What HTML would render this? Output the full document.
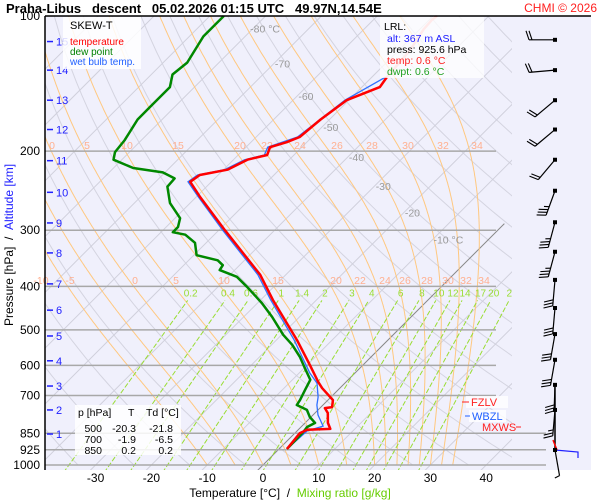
<!DOCTYPE html>
<html><head><meta charset="utf-8"><style>
html,body{margin:0;padding:0;background:#fff}
svg{display:block;font-family:"Liberation Sans",sans-serif}
</style></head><body>
<svg id="chart" width="600" height="500" viewBox="0 0 600 500" xmlns="http://www.w3.org/2000/svg">
<defs><clipPath id="pc"><rect x="45" y="16" width="467" height="454"/></clipPath></defs>
<rect x="45" y="16" width="546" height="454" fill="#f0f0fc"/>
<g id="bg" clip-path="url(#pc)"></g>
<g id="plines"></g>
<g id="barbs"></g>
<g id="labels"></g>
<g id="profiles"></g>
<line x1="45" y1="16" x2="591" y2="16" stroke="#000" stroke-width="1.5"/>
<line x1="45" y1="16" x2="45" y2="470" stroke="#000" stroke-width="1.5"/>
<text x="6" y="13" font-size="13" font-weight="bold">Praha-Libus&#160;&#160;&#160;descent&#160;&#160;&#160;05.02.2026 01:15 UTC&#160;&#160;&#160;49.97N,14.54E</text>
<text x="597" y="12" font-size="12" fill="#ff2020" text-anchor="end">CHMI © 2026</text>
<g>
<rect x="63" y="17" width="78" height="52" fill="#fff" opacity="0.85"/>
<text x="70" y="29" font-size="11">SKEW-T</text>
<text x="70" y="45" font-size="10" fill="#ff0000">temperature</text>
<text x="70" y="55" font-size="10" fill="#008000">dew point</text>
<text x="70" y="65" font-size="10" fill="#2060ff">wet bulb temp.</text>
</g>
<g>
<rect x="380" y="17" width="104" height="61" fill="#fff" opacity="0.75"/>
<text x="384" y="30" font-size="10.5">LRL:</text>
<text x="387" y="42" font-size="10.5" fill="#2020ff">alt: 367 m ASL</text>
<text x="387" y="53" font-size="10.5">press: 925.6 hPa</text>
<text x="387" y="64" font-size="10.5" fill="#ff2020">temp: 0.6 °C</text>
<text x="387" y="75" font-size="10.5" fill="#20a020">dwpt: 0.6 °C</text>
</g>
<g font-size="10.5">
<rect x="75" y="405" width="106" height="50" fill="#fff" opacity="0.85"/>
<text x="78" y="416">p [hPa]</text><text x="128" y="416">T</text><text x="146" y="416">Td [°C]</text>
<g text-anchor="end">
<text x="102" y="432">500</text><text x="136" y="432">-20.3</text><text x="173" y="432">-21.8</text>
<text x="102" y="443">700</text><text x="136" y="443">-1.9</text><text x="173" y="443">-6.5</text>
<text x="102" y="454">850</text><text x="136" y="454">0.2</text><text x="173" y="454">0.2</text>
</g></g>
<g font-size="11">
<rect x="466" y="396" width="42" height="12" fill="#fff" opacity="0.8"/>
<line x1="462" y1="402" x2="469" y2="402" stroke="#ff2020"/>
<text x="471" y="406" fill="#ff2020">FZLV</text>
<rect x="469" y="410" width="37" height="12" fill="#fff" opacity="0.8"/>
<line x1="465" y1="416" x2="470" y2="416" stroke="#2060ff"/>
<text x="472" y="420" fill="#2060ff">WBZL</text>
<text x="482" y="431" fill="#ff2020">MXWS</text>
<line x1="516" y1="427" x2="521" y2="427" stroke="#ff2020"/>
</g>
<text transform="translate(13,245) rotate(-90)" font-size="12" text-anchor="middle">Pressure [hPa]&#160;&#160;/&#160;&#160;<tspan fill="#2020ff">Altitude [km]</tspan></text>
<text x="290" y="497" font-size="12" text-anchor="middle">Temperature [°C]&#160;&#160;/&#160;&#160;<tspan fill="#66cc00">Mixing ratio [g/kg]</tspan></text>
<script>
// ---- data ----
const tempP = [921,849,835,831,806,766,747,743,717,674,653,599,527,429,377,300,253,234,226,220,209,204,196,191,186,170,154,144,137];
const tempT = [1.4,0.9,1.6,5.6,4.1,2.3,0.9,2.0,0.9,-3.2,-5.0,-9.5,-16.3,-27.8,-34.6,-48.9,-59.3,-63.8,-63.3,-59.3,-57.5,-54.8,-55.7,-53.6,-52.2,-51.6,-50.4,-46.8,-47.3];
const topP = [137,119,107,102,100];
const topT = [-47.3,-48.0,-49.3,-49.5,-49.3];
const dewP = [921,845,823,806,782,754,735,717,681,646,608,575,540,513,468,436,401,381,368,359,350,341,320,307,303,295,282,261,240,230,223,218,209,201,189,170,159,144,135,127,111,100];
const dewT = [1.4,1.3,1.1,1.8,-0.2,-2.0,-4.7,-5.0,-5.9,-6.8,-9.9,-12.7,-16.3,-19.7,-24.9,-29.2,-34.8,-38.4,-42.7,-43.0,-44.8,-49.5,-52.0,-55.2,-57.9,-57.9,-59.1,-63.6,-67.0,-67.2,-70.4,-76.5,-81.5,-82.6,-83.0,-84.4,-84.4,-84.4,-86.2,-85.7,-87.5,-87.5];
const wbP = [921,840,819,774,735,706,657,624,527,429,377,300,253,234,226,220,209,204,196,186,154,137];
const wbT = [1.4,1.8,3.8,0.9,-1.1,-2.3,-5.0,-8.1,-16.8,-28.2,-35.0,-49.3,-59.6,-64.2,-63.7,-59.8,-58.0,-55.3,-56.1,-52.6,-50.7,-47.6];
const pLevels = [100,200,300,400,500,600,700,850,925,1000];
const kmTicks = [1,2,3,4,5,6,7,8,9,10,11,12,13,14,15];
const kmP = [853,754,667,586,516,452,395,337,289,247,210,179,154,132,114];
const xTicks = [-30,-20,-10,0,10,20,30,40];
const isoLabels = [-80,-70,-60,-50,-40,-30,-20,-10];
const isoLabelP = [106.6,127.6,150.6,176.5,206,239,274,315];
const mixRatios = [0.2,0.4,0.6,1,1.4,2,3,4,6,8,10,12,14,17,20,25];
const moistThw = [-10,-5,0,5,10,15,20,22,24,26,28,30,32,34];
const barbP = [113,132,154,179,209,245,288,335,387,447,511,583,663,754,926];
const barbDir = [270,265,230,230,220,200,195,195,185,185,190,190,182,185,170];
const barbSpd = [20,20,20,20,20,35,35,35,30,30,30,30,30,25,5];

// ---- axes ----
const NS='http://www.w3.org/2000/svg';
function yP(p){return 465-449*Math.log10(1000/p);}
function xT(t,p){return 263+5.58*t+(465-yP(p));}
function mk(tag,attrs,parent){const e=document.createElementNS(NS,tag);for(const k in attrs)e.setAttribute(k,attrs[k]);parent.appendChild(e);return e;}
function pts(P,T){return P.map((p,i)=>xT(T[i],p).toFixed(1)+','+yP(p).toFixed(1)).join(' ');}
const bg=document.getElementById('bg'),pl=document.getElementById('plines'),pr=document.getElementById('profiles'),lb=document.getElementById('labels'),bb=document.getElementById('barbs');

// dry adiabats (grey)
for(let th=200;th<=480;th+=10){const P=[],T=[];for(let p=1000;p>=100;p-=10){P.push(p);T.push(th*Math.pow(p/1000,0.286)-273.15);}
 const e=mk('polyline',{points:pts(P,T),fill:'none',stroke:'#d4d4e0','stroke-width':1},bg);
 
 }
// isotherms
for(let t=-160;t<=50;t+=10){const e=mk('line',{x1:xT(t,1050),y1:yP(1050),x2:xT(t,100),y2:yP(100),stroke:t===0?'none':'#d0d0dc','stroke-width':1},bg);
 
 }
{const e=mk('line',{x1:xT(0,1030),y1:yP(1030),x2:xT(0,290),y2:yP(290),stroke:'#888','stroke-width':1},bg);
 
 }
// moist adiabats
function es(tc){return 6.112*Math.exp(17.67*tc/(tc+243.5));}
moistThw.forEach(tw=>{let T=tw+273.15;const P=[],TT=[];for(let p=1000;p>=100;p-=2){P.push(p);TT.push(T-273.15);
  const e=es(T-273.15),rs=0.622*e/(p-e);const d=(287*T+2.5e6*rs)/(p*(1004+2.5e6*2.5e6*rs*0.622/(287*T*T)));T-=d*2;}
 const e=mk('polyline',{points:pts(P,TT),fill:'none',stroke:'#ffc880','stroke-width':1},bg);
 
 });
// mixing ratio lines
function tdw(w,p){const e=w*p/(622+w),l=Math.log(e/6.112);return 243.5*l/(17.67-l);}
mixRatios.forEach(w=>{const e=mk('line',{x1:xT(tdw(w,1040),1040),y1:yP(1040),x2:xT(tdw(w,430),430),y2:yP(430),stroke:'#99dd33','stroke-width':1,'stroke-dasharray':'5,2'},bg);
 
 
 const t=mk('text',{x:xT(tdw(w,430),430)+3,y:yP(430)-4,'font-size':10,fill:'#99dd33','text-anchor':'middle'},bg);t.textContent=w;
 
 });
// moist adiabat labels
const mlTop=[['0',52],['5',87],['10',127],['15',178],['20',240],['22',267],['24',300],['26',337],['28',372],['30',408],['32',443],['34',477]];
const mlLow=[['-10',41],['-5',70],['0',135],['5',176],['10',224],['15',278],['20',336],['22',360],['24',385],['26',405],['28',427],['30',448],['32',466],['34',484]];
mlTop.forEach(a=>{const t=mk('text',{x:a[1],y:149,'font-size':10.5,fill:'#ffb090','text-anchor':'middle'},lb);t.textContent=a[0];
 
 });
mlLow.forEach(a=>{const t=mk('text',{x:a[1],y:284,'font-size':10.5,fill:'#ffb090','text-anchor':'middle'},lb);t.textContent=a[0];
 
 });
// isotherm labels
isoLabels.forEach((t,i)=>{const p=isoLabelP[i];const e=mk('text',{x:xT(t,p)+(t===-80?-3:1),y:yP(p)+4,'font-size':10.5,fill:'#999'},lb);e.textContent=(t===-80||t===-10)?t+' °C':t;
 
 });
// pressure lines + labels
pLevels.forEach(p=>{const y=yP(p);if(p>100){const l=mk('line',{x1:45,y1:y,x2:p>=850?546:496,y2:y,stroke:'#a8a8a8','stroke-width':1.5},pl);
  
  }
 const t=mk('text',{x:40,y:y+4,'font-size':12,'text-anchor':'end'},lb);t.textContent=p;
 
 });
// km ticks
kmTicks.forEach((k,i)=>{const y=yP(kmP[i]);mk('line',{x1:47,y1:y,x2:53,y2:y,stroke:'#2020ff','stroke-width':1.5},lb);
 const t=mk('text',{x:56,y:y+4,'font-size':11,fill:'#2020ff'},lb);t.textContent=k;
 
 });
// x ticks
xTicks.forEach(v=>{const t=mk('text',{x:xT(v,1000),y:482,'font-size':12,'text-anchor':'middle'},lb);t.textContent=v;
 
 });
// profiles
{let e=mk('polyline',{points:pts(wbP,wbT),fill:'none',stroke:'#3070ff','stroke-width':1.3},pr);
 
 
 e=mk('polyline',{points:pts(dewP,dewT),fill:'none',stroke:'#008800','stroke-width':2.5,'stroke-linejoin':'round'},pr);
 
 
 e=mk('polyline',{points:pts(topP,topT),fill:'none',stroke:'#ffaaaa','stroke-width':2.5},pr);
 
 
 e=mk('polyline',{points:pts(tempP,tempT),fill:'none',stroke:'#ff0000','stroke-width':2.5,'stroke-linejoin':'round'},pr);
 
 }
// wind barbs
const bx=555;
mk('line',{x1:bx,y1:yP(663),x2:bx,y2:yP(926),stroke:'#000','stroke-width':1.5},bb);
mk('polyline',{points:`${bx},${yP(926)} 578,${yP(926)+2} 578,${yP(926)+8}`,fill:'none',stroke:'#2020ff','stroke-width':1.2},bb);
mk('line',{x1:bx-2,y1:yP(880),x2:bx+2,y2:yP(926),stroke:'#ff0000','stroke-width':1.5},bb);
barbP.forEach((p,i)=>{const y=yP(p),a=barbDir[i]*Math.PI/180,dx=Math.sin(a),dy=-Math.cos(a),L=26;
 const g=mk('g',{},bb);
 
 
 mk('rect',{x:bx-2,y:y-2,width:4,height:4,fill:'#000'},g);
 const ex=bx+dx*L,ey=y+dy*L;mk('line',{x1:bx,y1:y,x2:ex,y2:ey,stroke:'#000','stroke-width':1.2},g);
 let s=barbSpd[i],k=0;const px=-dy,py=dx;
 while(s>=10){const sx=ex-dx*k*3,sy=ey-dy*k*3;mk('line',{x1:sx,y1:sy,x2:sx+px*9+dx*3,y2:sy+py*9+dy*3,stroke:'#000','stroke-width':1.1},g);s-=10;k++;}
 if(s>=5){const sx=ex-dx*k*3,sy=ey-dy*k*3;mk('line',{x1:sx,y1:sy,x2:sx+px*5+dx*1.5,y2:sy+py*5+dy*1.5,stroke:'#000','stroke-width':1.1},g);}
});
</script>
</svg>
</body></html>
